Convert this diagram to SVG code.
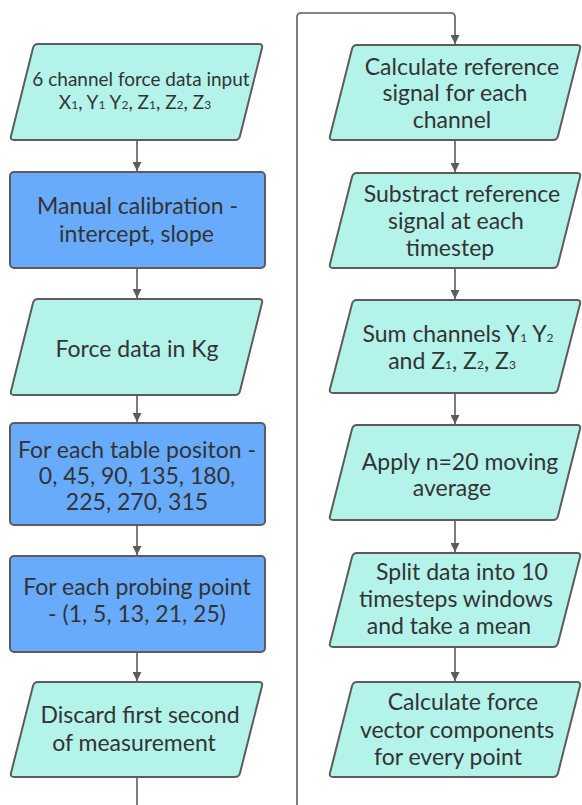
<svg xmlns="http://www.w3.org/2000/svg" width="582" height="805" viewBox="0 0 582 805">
<defs>
<style>
.io{fill:#b4f3ea;stroke:#5c5c5c;stroke-width:2;stroke-linejoin:round}
.pr{fill:#68abfd;stroke:#5c5c5c;stroke-width:2}
.t{font-family:Lato,"Open Sans",sans-serif;font-size:23px;fill:#333333;text-anchor:middle}
.s{font-size:19px}
.sub{font-size:12px}
.c{fill:none;stroke:#5c5c5c;stroke-width:1.6}
</style>
<marker id="ah" viewBox="0 0 10 10" refX="10" refY="5" markerWidth="9" markerHeight="9" markerUnits="userSpaceOnUse" orient="auto">
<path d="M0,0 L10,5 L0,10 z" fill="#5c5c5c"/>
</marker>
</defs>
<rect width="582" height="805" fill="#ffffff"/>
<g id="connectors">
<path class="c" d="M137,140 V171" marker-end="url(#ah)"/>
<path class="c" d="M137,268 V298" marker-end="url(#ah)"/>
<path class="c" d="M137,395 V422" marker-end="url(#ah)"/>
<path class="c" d="M137,525 V555" marker-end="url(#ah)"/>
<path class="c" d="M137,652 V681" marker-end="url(#ah)"/>
<path class="c" d="M137,777 V805"/>
<path class="c" d="M297,805 V17 Q297,13 301,13 H451 Q455,13 455,17 V44" marker-end="url(#ah)"/>
<path class="c" d="M455,140 V172" marker-end="url(#ah)"/>
<path class="c" d="M455,268 V299" marker-end="url(#ah)"/>
<path class="c" d="M455,393 V424" marker-end="url(#ah)"/>
<path class="c" d="M455,520 V552" marker-end="url(#ah)"/>
<path class="c" d="M455,647 V681" marker-end="url(#ah)"/>
</g>
<g id="n1">
<path class="io" d="M38,44 H259 Q263,44 262,48 L240,136 Q239,140 235,140 H14 Q10,140 11,136 L33,48 Q34,44 38,44 Z"/>
<text class="t s" x="141" y="86">6 channel force data input</text>
<text class="t s" x="135" y="109">X<tspan class="sub">1</tspan>, Y<tspan class="sub">1</tspan> Y<tspan class="sub">2</tspan>, Z<tspan class="sub">1</tspan>, Z<tspan class="sub">2</tspan>, Z<tspan class="sub">3</tspan></text>
</g>
<g id="n2">
<rect class="pr" x="10" y="172" width="255" height="96" rx="4"/>
<text class="t" x="137.5" y="214">Manual calibration -</text>
<text class="t" x="136.5" y="242">intercept, slope</text>
</g>
<g id="n3">
<path class="io" d="M38,299 H259 Q263,299 262,303 L240,391 Q239,395 235,395 H14 Q10,395 11,391 L33,303 Q34,299 38,299 Z"/>
<text class="t" x="137" y="357">Force data in Kg</text>
</g>
<g id="n4">
<rect class="pr" x="10" y="423" width="255" height="102" rx="4"/>
<text class="t" x="137" y="458">For each table positon -</text>
<text class="t" x="137" y="484">0, 45, 90, 135, 180,</text>
<text class="t" x="137" y="510">225, 270, 315</text>
</g>
<g id="n5">
<rect class="pr" x="10" y="556" width="255" height="96" rx="4"/>
<text class="t" x="137" y="595">For each probing point</text>
<text class="t" x="137" y="622">- (1, 5, 13, 21, 25)</text>
</g>
<g id="n6">
<path class="io" d="M38,682 H259 Q263,682 262,686 L240,773 Q239,777 235,777 H14 Q10,777 11,773 L33,686 Q34,682 38,682 Z"/>
<text class="t" x="140" y="723">Discard first second</text>
<text class="t" x="134" y="751">of measurement</text>
</g>
<g id="n7">
<path class="io" d="M357,45 H577 Q581,45 580,49 L558,136 Q557,140 553,140 H333 Q329,140 330,136 L352,49 Q353,45 357,45 Z"/>
<text class="t" x="462" y="75">Calculate reference</text>
<text class="t" x="455" y="101">signal for each</text>
<text class="t" x="452" y="128">channel</text>
</g>
<g id="n8">
<path class="io" d="M357,173 H577 Q581,173 580,177 L558,264 Q557,268 553,268 H333 Q329,268 330,264 L352,177 Q353,173 357,173 Z"/>
<text class="t" x="462" y="202">Substract reference</text>
<text class="t" x="456" y="229">signal at each</text>
<text class="t" x="450" y="256">timestep</text>
</g>
<g id="n9">
<path class="io" d="M357,300 H577 Q581,300 580,304 L558,389 Q557,393 553,393 H333 Q329,393 330,389 L352,304 Q353,300 357,300 Z"/>
<text class="t" x="458" y="342">Sum channels Y<tspan class="sub">1</tspan> Y<tspan class="sub">2</tspan></text>
<text class="t" x="452" y="369">and Z<tspan class="sub">1</tspan>, Z<tspan class="sub">2</tspan>, Z<tspan class="sub">3</tspan></text>
</g>
<g id="n10">
<path class="io" d="M357,425 H577 Q581,425 580,429 L558,516 Q557,520 553,520 H333 Q329,520 330,516 L352,429 Q353,425 357,425 Z"/>
<text class="t" x="460" y="470">Apply n=20 moving</text>
<text class="t" x="452" y="496">average</text>
</g>
<g id="n11">
<path class="io" d="M357,553 H577 Q581,553 580,557 L558,643 Q557,647 553,647 H333 Q329,647 330,643 L352,557 Q353,553 357,553 Z"/>
<text class="t" x="462" y="580">Split data into 10</text>
<text class="t" x="456" y="607">timesteps windows</text>
<text class="t" x="449" y="634">and take a mean</text>
</g>
<g id="n12">
<path class="io" d="M357,682 H577 Q581,682 580,686 L558,773 Q557,777 553,777 H333 Q329,777 330,773 L352,686 Q353,682 357,682 Z"/>
<text class="t" x="463" y="710">Calculate force</text>
<text class="t" x="457" y="738">vector components</text>
<text class="t" x="448" y="765">for every point</text>
</g>
</svg>
